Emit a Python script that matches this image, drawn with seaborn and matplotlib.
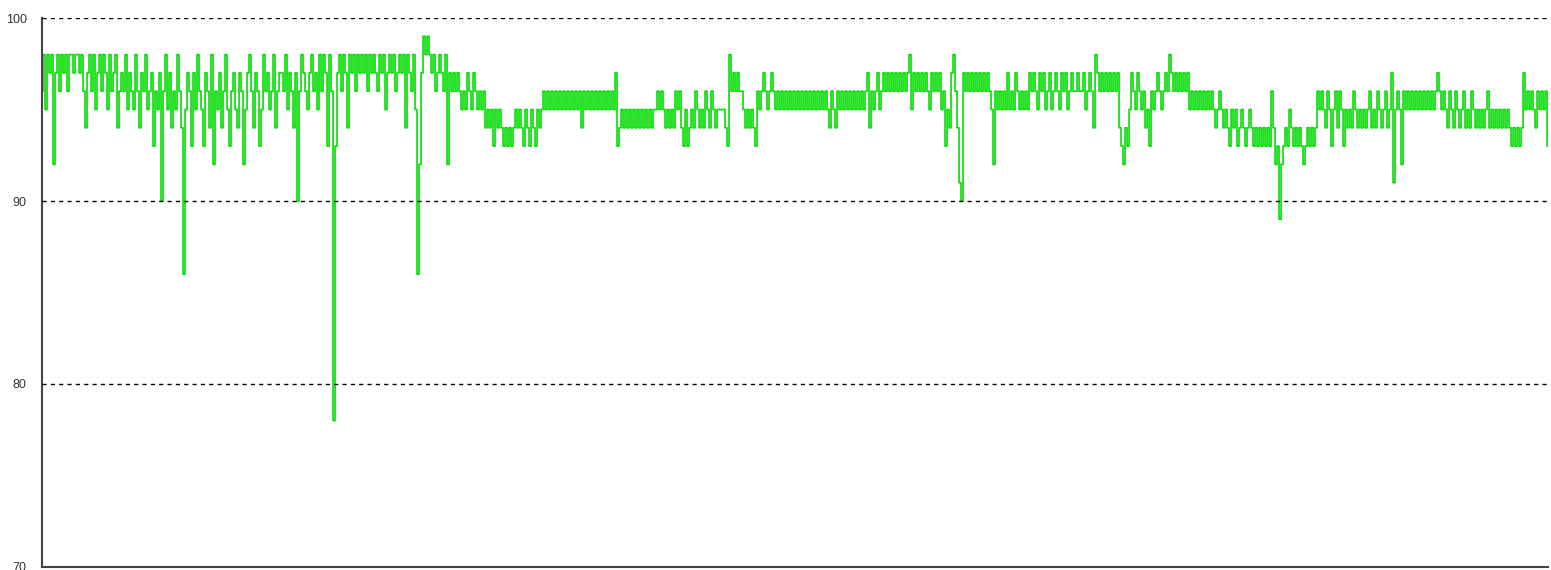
import matplotlib
matplotlib.use("Agg")
import matplotlib.pyplot as plt
import seaborn as sns
import pandas as pd

# readings, read left to right off the reference (integer percent values)
readings = [
    96, 98, 95, 98, 97, 98, 92, 97, 98, 96, 98, 97, 98, 96, 98, 98, 97, 98, 98, 97,
    98, 96, 94, 97, 98, 96, 98, 95, 97, 98, 96, 98, 97, 95, 98, 96, 97, 98, 94, 96,
    97, 96, 98, 95, 97, 96, 95, 98, 96, 94, 97, 96, 98, 95, 96, 97, 93, 96, 95, 97,
    90, 96, 98, 95, 97, 94, 96, 95, 98, 96, 94, 86, 95, 97, 96, 93, 97, 95, 98, 96,
    95, 93, 97, 96, 94, 98, 92, 96, 95, 97, 94, 96, 98, 95, 93, 96, 97, 95, 94, 97,
    96, 92, 95, 97, 98, 96, 94, 97, 96, 93, 95, 98, 96, 97, 95, 96, 98, 94, 96, 97,
    97, 96, 98, 95, 97, 96, 94, 97, 90, 96, 98, 97, 96, 95, 97, 98, 96, 97, 95, 98,
    96, 98, 97, 93, 98, 96, 78, 93, 97, 98, 96, 98, 97, 94, 98, 97, 98, 96, 98, 97,
    98, 97, 98, 96, 98, 97, 98, 97, 96, 98, 97, 98, 95, 97, 98, 97, 98, 96, 97, 98,
    97, 98, 94, 98, 97, 96, 98, 95, 86, 92, 97, 99, 98, 99, 98, 97, 98, 96, 97, 98,
    97, 96, 98, 92, 97, 96, 97, 96, 97, 96, 95, 96, 95, 97, 96, 95, 97, 96, 95, 96,
    95, 96, 94, 95, 94, 95, 93, 95, 94, 95, 94, 93, 94, 93, 94, 93, 94, 95, 94, 95,
    94, 93, 95, 94, 93, 95, 94, 93, 95, 94, 95, 96, 95, 96, 95, 96, 95, 96, 95, 96,
    95, 96, 95, 96, 95, 96, 95, 96, 95, 96, 94, 96, 95, 96, 95, 96, 95, 96, 95, 96,
    95, 96, 95, 96, 95, 96, 95, 97, 93, 94, 95, 94, 95, 94, 95, 94, 95, 94, 95, 94,
    95, 94, 95, 94, 95, 94, 95, 95, 96, 95, 96, 95, 94, 95, 94, 95, 94, 96, 95, 96,
    94, 93, 95, 93, 94, 95, 94, 96, 95, 94, 95, 94, 96, 95, 94, 96, 95, 94, 95, 95,
    95, 95, 94, 93, 98, 96, 97, 96, 97, 96, 96, 95, 94, 95, 94, 95, 94, 93, 96, 95,
    96, 97, 96, 95, 96, 97, 96, 95, 96, 95, 96, 95, 96, 95, 96, 95, 96, 95, 96, 95,
    96, 95, 96, 95, 96, 95, 96, 95, 96, 95, 96, 95, 96, 95, 94, 96, 95, 94, 96, 95,
    96, 95, 96, 95, 96, 95, 96, 95, 96, 95, 96, 95, 96, 97, 94, 96, 95, 96, 97, 95,
    96, 97, 96, 97, 96, 97, 96, 97, 96, 97, 96, 97, 96, 97, 98, 95, 97, 96, 97, 96,
    97, 96, 97, 96, 95, 97, 96, 97, 96, 97, 95, 96, 93, 95, 94, 97, 98, 96, 94, 91,
    90, 97, 96, 97, 96, 97, 96, 97, 96, 97, 96, 97, 96, 97, 96, 95, 92, 96, 95, 96,
    95, 96, 95, 97, 95, 96, 95, 97, 96, 95, 96, 95, 96, 95, 97, 96, 97, 96, 95, 97,
    96, 97, 95, 96, 97, 95, 96, 97, 96, 95, 97, 96, 97, 95, 96, 97, 96, 96, 97, 96,
    96, 97, 95, 96, 97, 96, 94, 98, 97, 96, 97, 96, 97, 96, 97, 96, 97, 96, 97, 94,
    93, 92, 94, 93, 95, 97, 96, 95, 97, 96, 95, 96, 94, 95, 93, 96, 95, 96, 97, 96,
    95, 96, 97, 96, 98, 97, 96, 97, 96, 97, 96, 97, 96, 97, 95, 96, 95, 96, 95, 96,
    95, 96, 95, 96, 95, 96, 95, 94, 95, 96, 95, 94, 95, 94, 93, 95, 94, 95, 93, 94,
    95, 94, 93, 94, 95, 94, 93, 94, 93, 94, 93, 94, 93, 94, 93, 96, 94, 92, 93, 89,
    92, 93, 94, 93, 95, 94, 93, 94, 93, 94, 93, 92, 93, 94, 93, 94, 93, 94, 96, 95,
    96, 95, 94, 96, 95, 93, 95, 96, 94, 96, 95, 93, 95, 94, 95, 94, 96, 95, 94, 95,
    94, 95, 94, 95, 96, 94, 95, 94, 96, 95, 94, 95, 96, 94, 95, 97, 91, 95, 96, 95,
    92, 96, 95, 96, 95, 96, 95, 96, 95, 96, 95, 96, 95, 96, 95, 96, 95, 96, 97, 96,
    95, 96, 95, 94, 96, 95, 94, 96, 95, 94, 95, 96, 94, 95, 94, 96, 95, 94, 95, 94,
    95, 94, 95, 96, 94, 95, 94, 95, 94, 95, 94, 95, 94, 95, 94, 93, 94, 93, 94, 93,
    94, 97, 95, 96, 95, 96, 95, 94, 96, 95, 96, 95, 96, 93,
]
y_ticks = [70, 80, 90, 100]

df = pd.DataFrame({"sample": range(len(readings)), "value": readings})

sns.set_style("white")
plt.rcParams["font.family"] = ["Liberation Sans", "DejaVu Sans"]

fig = plt.figure(figsize=(15.51, 5.70), dpi=100)
ax = fig.add_axes([0.0271, 0.0053, 0.9710, 0.9631])

sns.lineplot(data=df, x="sample", y="value", ax=ax, color="#00e000",
             linewidth=1.2, drawstyle="steps-mid")

ax.set_xlim(0, len(readings) - 1)
ax.set_ylim(70, 100)
ax.set_yticks(y_ticks)
ax.set_yticklabels([str(t) for t in y_ticks], fontsize=9, color="#333333")
ax.set_xticks([])
ax.set_xlabel("")
ax.set_ylabel("")
ax.tick_params(axis="y", length=0, pad=11)

# dashed reference lines
for t in y_ticks[1:]:
    ax.axhline(t, color="black", linestyle=(0, (3, 3)), linewidth=1.0, zorder=3)

for side in ["top", "right"]:
    ax.spines[side].set_visible(False)
for side in ["left", "bottom"]:
    ax.spines[side].set_color("#444444")
    ax.spines[side].set_linewidth(1.5)

fig.savefig("out.png", dpi=100)
plt.close(fig)
